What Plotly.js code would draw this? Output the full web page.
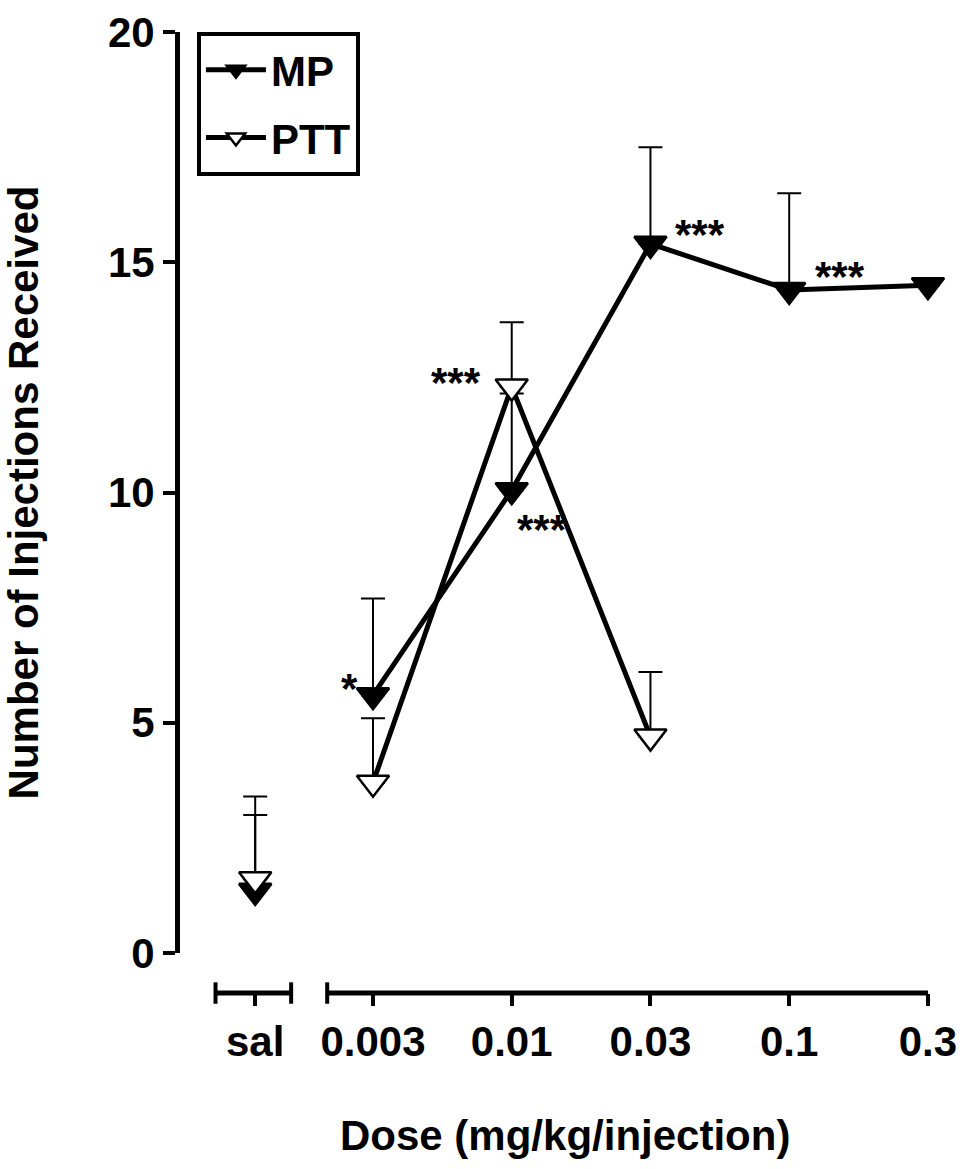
<!DOCTYPE html>
<html>
<head>
<script src="https://cdn.plot.ly/plotly-3.0.1.min.js"></script>
<style>body{margin:0;background:#fff}</style>
</head>
<body>
<div id="chart" style="width:965px;height:1169px"></div>
<script>
// x positions: sal sits apart, doses evenly spaced
const salX = [0.151]
const doseX = [1, 2, 3, 4, 5]
const tickLabels = ['sal', '0.003', '0.01', '0.03', '0.1', '0.3']

const mpSal = [1.35]
const mpSalErr = [2.05]
const mpDose = [5.6, 10.05, 15.4, 14.4, 14.5]
const mpDoseErr = [2.1, 2.1, 2.1, 2.1, 0]

const pttSal = [1.6]
const pttSalErr = [1.4]
const pttX = [1, 2, 3]
const pttDose = [3.7, 12.3, 4.7]
const pttDoseErr = [1.4, 1.4, 1.4]

const font = 'Liberation Sans, Arial, sans-serif'
const bold = { family: font, size: 42, color: 'black', weight: 'bold' }

function series(x, y, err, filled, name, showlegend) {
  return {
    x: x, y: y, name: name, showlegend: showlegend, legendgroup: name,
    type: 'scatter', mode: 'lines+markers',
    line: { color: 'black', width: 5 },
    marker: { symbol: 'triangle-down', size: 28, color: filled ? 'black' : 'white',
      line: { color: 'black', width: 2.5 } },
    error_y: { type: 'data', symmetric: false, array: err, arrayminus: err.map(() => 0),
      color: 'black', thickness: 2, width: 12 },
  }
}

const data = [
  series(doseX, mpDose, mpDoseErr, true, 'MP', true),
  series(pttX, pttDose, pttDoseErr, false, 'PTT', true),
  series(salX, mpSal, mpSalErr, true, 'MP', false),
  series(salX, pttSal, pttSalErr, false, 'PTT', false),
]

const axisY = 0.0123
const seg = (x0, x1) => ({ type: 'line', xref: 'x', yref: 'paper', x0: x0, x1: x1, y0: axisY, y1: axisY,
  line: { color: 'black', width: 5 } })
const cap = (x) => ({ type: 'line', xref: 'x', yref: 'paper', x0: x, x1: x, y0: axisY - 0.011, y1: axisY + 0.011,
  line: { color: 'black', width: 4 } })

const stars = [
  [0.834, 5.75, '*'], [1.6, 12.4, '***'], [2.22, 9.2, '***'], [3.357, 15.6, '***'], [4.366, 14.7, '***'],
].map(([x, y, t]) => ({ x: x, y: y, text: t, showarrow: false, font: bold, xref: 'x', yref: 'y' }))

const layout = {
  width: 965, height: 1169,
  margin: { l: 180, r: 15, t: 32, b: 164 },
  paper_bgcolor: 'white', plot_bgcolor: 'white',
  showlegend: true,
  legend: { x: 0.022, y: 1, xanchor: 'left', yanchor: 'top', bordercolor: 'black', borderwidth: 4,
    font: bold, bgcolor: 'white', itemwidth: 60, tracegroupgap: 10 },
  xaxis: {
    range: [-0.391, 5.159], anchor: 'free', position: axisY,
    showline: false, showgrid: false, zeroline: false,
    tickvals: salX.concat(doseX), ticktext: tickLabels,
    ticks: 'outside', ticklen: 12, tickwidth: 4, tickcolor: 'black',
    tickfont: bold,
  },
  yaxis: {
    range: [0, 20], domain: [0.0534, 1],
    showline: true, linewidth: 5, linecolor: 'black', showgrid: false, zeroline: false,
    tickvals: [0, 5, 10, 15, 20], ticks: 'outside', ticklen: 12, tickwidth: 4, tickcolor: 'black',
    tickfont: bold,
    title: { text: 'Number of Injections Received', font: bold, standoff: 60 },
  },
  shapes: [seg(-0.135, 0.41), seg(0.67, 5), cap(-0.135), cap(0.41), cap(0.67)],
  annotations: stars.concat([
    { xref: 'paper', yref: 'paper', x: 0.5, y: -0.16, text: 'Dose (mg/kg/injection)',
      showarrow: false, font: bold, xanchor: 'center' },
  ]),
}

Plotly.newPlot('chart', data, layout, { displayModeBar: false })
</script>
</body>
</html>
